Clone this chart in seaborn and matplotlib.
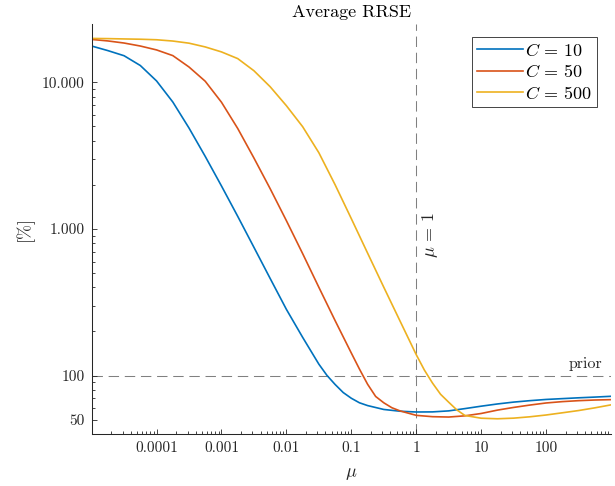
import numpy as np
import pandas as pd
import matplotlib
matplotlib.use("Agg")
import matplotlib.pyplot as plt
import matplotlib.ticker as mticker
import seaborn as sns

# Average RRSE [%] versus regularisation weight mu, one curve per C
mu_c10 = [1e-5, 1.78e-5, 3.16e-5, 5.62e-5, 1e-4, 1.78e-4, 3.16e-4, 5.62e-4,
          1e-3, 1.78e-3, 3.16e-3, 5.62e-3, 0.01, 0.0178, 0.0316, 0.0422,
          0.0562, 0.075, 0.1, 0.1334, 0.178, 0.316, 0.562, 1.0,
          1.78, 3.16, 5.62, 10, 17.8, 31.6, 56.2, 100, 178, 316, 562, 1000]
rrse_c10 = [17680, 16450, 15180, 13020, 10220, 7340, 4880, 3125,
            1964, 1219, 750, 460, 283, 182.4, 119.8, 100.3,
            87.1, 76.7, 70.1, 65.3, 62.5, 58.8, 57.2, 56.5,
            56.6, 57.5, 59.6, 61.9, 64.1, 66.0, 67.5, 68.8, 69.7, 70.6, 71.4, 72.3]

mu_c50 = [1e-5, 1.78e-5, 3.16e-5, 5.62e-5, 1e-4, 1.78e-4, 3.16e-4, 5.62e-4,
          1e-3, 1.78e-3, 3.16e-3, 5.62e-3, 0.01, 0.0178, 0.0316, 0.0562,
          0.1, 0.1334, 0.178, 0.2371, 0.316, 0.4217, 0.562, 1.0,
          1.78, 3.16, 5.62, 10, 17.8, 31.6, 56.2, 100, 178, 316, 562, 1000]
rrse_c50 = [19610, 19150, 18530, 17680, 16630, 15210, 12720, 10170,
            7315, 4843, 3048, 1883, 1139, 679, 400.5, 237.5,
            142.6, 110.9, 87.4, 72.1, 65.3, 60.4, 57.5, 53.6,
            52.5, 52.2, 53.2, 55.2, 58.2, 60.7, 63.0, 65.1, 66.5, 67.5, 68.2, 68.6]

mu_c500 = [1e-5, 1.78e-5, 3.16e-5, 5.62e-5, 1e-4, 1.78e-4, 3.16e-4, 5.62e-4,
           1e-3, 1.78e-3, 3.16e-3, 5.62e-3, 0.01, 0.0178, 0.0316, 0.0562,
           0.1, 0.178, 0.316, 0.562, 1.0, 1.334, 1.78, 2.371,
           3.16, 4.217, 5.62, 10, 17.8, 31.6, 56.2, 100, 178, 316, 562, 1000]
rrse_c500 = [19920, 19860, 19760, 19670, 19510, 19120, 18490, 17430,
             16120, 14510, 11995, 9333, 6926, 4982, 3312, 2004,
             1176, 685, 401, 236, 139, 109.2, 89.0, 74.6,
             65.9, 58.4, 53.5, 51.25, 50.8, 51.3, 52.4, 53.9, 55.8, 57.8, 60.3, 63.2]

series_labels = [r"$C\,=\,10$", r"$C\,=\,50$", r"$C\,=\,500$"]
series_colors = ["#0072BD", "#D95319", "#EDB120"]

x_ticks = [1e-4, 1e-3, 1e-2, 1e-1, 1, 10, 100]
x_tick_labels = ["0.0001", "0.001", "0.01", "0.1", "1", "10", "100"]
y_ticks = [50, 100, 1000, 10000]
y_tick_labels = ["50", "100", "1.000", "10.000"]

prior_level = 100
mu_ref = 1

df = pd.concat([
    pd.DataFrame({"mu": mu_c10, "rrse": rrse_c10, "series": series_labels[0]}),
    pd.DataFrame({"mu": mu_c50, "rrse": rrse_c50, "series": series_labels[1]}),
    pd.DataFrame({"mu": mu_c500, "rrse": rrse_c500, "series": series_labels[2]}),
], ignore_index=True)

plt.rcParams.update({
    "font.family": "serif",
    "font.serif": ["cmr10"],
    "mathtext.fontset": "cm",
    "axes.unicode_minus": False,
    "font.size": 11,
})

ink = "#262626"
fig = plt.figure(figsize=(6.15, 4.86), dpi=100)
ax = fig.add_axes([0.149, 0.107, 0.8445, 0.8437])

sns.lineplot(data=df, x="mu", y="rrse", hue="series", hue_order=series_labels,
             palette=dict(zip(series_labels, series_colors)), estimator=None,
             sort=True, linewidth=1.2, ax=ax)

ax.set_xscale("log")
ax.set_yscale("log")
ax.set_xlim(1e-5, 1e3)
ax.set_ylim(40, 25000)

dash = (0, (10, 5.5))
ax.axhline(prior_level, color="#808080", lw=0.75, ls=dash, zorder=1)
ax.axvline(mu_ref, color="#808080", lw=0.75, ls=dash, zorder=1)
ax.text(1.15, 914, r"$\mu\,=\,1$", rotation=90, ha="left", va="center",
        color=ink, fontsize=13)
ax.text(740, 113, "prior", ha="right", va="baseline", color=ink, fontsize=11.5)

ax.set_xticks(x_ticks)
ax.set_xticklabels(x_tick_labels)
ax.set_yticks(y_ticks)
ax.set_yticklabels(y_tick_labels)
ax.xaxis.set_minor_locator(mticker.LogLocator(base=10, subs=np.arange(2, 10), numticks=50))
ax.yaxis.set_minor_locator(mticker.LogLocator(base=10, subs=np.arange(2, 10), numticks=50))
ax.xaxis.set_minor_formatter(mticker.NullFormatter())
ax.yaxis.set_minor_formatter(mticker.NullFormatter())

ax.tick_params(which="major", direction="in", length=3.6, width=0.6, color=ink,
               labelcolor=ink, labelsize=11, pad=5)
ax.tick_params(which="minor", direction="in", length=2.2, width=0.6, color=ink)

for side in ["top", "right"]:
    ax.spines[side].set_visible(False)
for side in ["left", "bottom"]:
    ax.spines[side].set_color(ink)
    ax.spines[side].set_linewidth(0.75)

ax.set_title("Average RRSE", fontsize=13, color="black", pad=5)
ax.set_xlabel(r"$\mu$", fontsize=13, color=ink, labelpad=8)
ax.set_ylabel("[%]", fontsize=13, color=ink, labelpad=6)

leg = ax.legend(loc="upper right", bbox_to_anchor=(0.9736, 0.969), borderaxespad=0,
                frameon=True, fancybox=False, framealpha=1, edgecolor=ink,
                handlelength=2.5, handletextpad=0.15, labelspacing=0.25,
                borderpad=0.28, fontsize=13, title=None)
leg.get_frame().set_linewidth(0.6)

fig.savefig("out.png", dpi=100)
